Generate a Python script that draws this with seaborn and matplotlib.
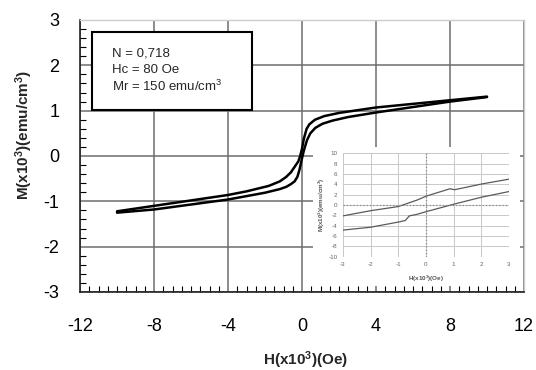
import matplotlib
matplotlib.use("Agg")
import matplotlib.pyplot as plt
from matplotlib.patches import Rectangle
from matplotlib.ticker import MultipleLocator
import pandas as pd
import seaborn as sns

# main loop, descending branch
h_down = [10, 8, 6, 4, 2, 1.2, 0.7, 0.4, 0.25, 0.1, 0, -0.1, -0.2, -0.4, -0.6, -0.85, -1.2, -1.8, -3, -4, -6, -8, -10]
m_down = [1.31, 1.23, 1.15, 1.07, 0.95, 0.88, 0.80, 0.70, 0.60, 0.38, 0.16, 0.0, -0.12, -0.24, -0.36, -0.46, -0.56, -0.66, -0.78, -0.86, -0.98, -1.10, -1.22]
# ascending branch
h_up = [-10, -8, -6, -4, -2, -1.2, -0.85, -0.6, -0.4, -0.25, -0.14, 0, 0.1, 0.27, 0.45, 0.72, 1.1, 1.64, 2.5, 4, 6, 8, 10]
m_up = [-1.25, -1.18, -1.07, -0.96, -0.81, -0.73, -0.68, -0.62, -0.56, -0.46, -0.31, -0.05, 0.12, 0.35, 0.50, 0.62, 0.71, 0.78, 0.86, 0.96, 1.08, 1.20, 1.30]

# inset (zoom on low field)
ih_top = [-3, -2, -1, -0.3, 0, 0.87, 1.03, 2, 3]
im_top = [-2.1, -1.1, -0.3, 1.0, 1.7, 3.15, 2.95, 4.05, 5.0]
ih_bot = [-3, -2, -1, -0.75, -0.6, -0.36, 0, 1, 2, 3]
im_bot = [-4.85, -4.3, -3.3, -3.0, -2.1, -1.85, -1.3, 0.15, 1.5, 2.6]

x_ticks = [-12, -8, -4, 0, 4, 8, 12]
y_ticks = [-3, -2, -1, 0, 1, 2, 3]
info = ["N = 0,718", "Hc = 80 Oe", r"Mr = 150 emu/cm$^3$"]

sns.set_theme(style="white")
plt.rcParams['font.family'] = ['Liberation Sans', 'DejaVu Sans']
plt.rcParams['axes.unicode_minus'] = False
plt.rcParams['mathtext.fontset'] = 'custom'
plt.rcParams['mathtext.rm'] = 'Liberation Sans'
plt.rcParams['mathtext.bf'] = 'Liberation Sans:bold'
plt.rcParams['mathtext.default'] = 'rm'

fig = plt.figure(figsize=(5.36, 3.70), dpi=100)
ax = fig.add_axes([80/536, 1-292/370, 444/536, 272/370])

sns.lineplot(x=h_down, y=m_down, sort=False, estimator=None, color='black', lw=1.8, ax=ax)
sns.lineplot(x=h_up, y=m_up, sort=False, estimator=None, color='black', lw=1.8, ax=ax)

ax.set_xlim(-12, 12)
ax.set_ylim(-3, 3)
ax.set_xticks(x_ticks)
ax.set_yticks(y_ticks)
ax.xaxis.set_minor_locator(MultipleLocator(0.5))
ax.yaxis.set_minor_locator(MultipleLocator(0.2))
ax.grid(True, which='major', color='#6e6e6e', lw=1.1)
ax.tick_params(which='major', length=0, labelsize=13, colors='black')
ax.tick_params(axis='x', which='major', pad=19)
ax.tick_params(axis='y', which='major', pad=15)
ax.tick_params(which='minor', direction='in', length=4, width=0.8, color='black',
               bottom=True, left=True, top=False, right=False)
for side in ['top', 'right']:
    ax.spines[side].set_color('#cccccc')
    ax.spines[side].set_linewidth(1.0)
for side in ['left', 'bottom']:
    ax.spines[side].set_color('#222222')
    ax.spines[side].set_linewidth(1.2)

fig.text(305/536, 1-360/370, r"H(x10$^\mathbf{3}$)(Oe)", ha='center', va='center', fontsize=11, fontweight='bold')
fig.text(24/536, 1-135/370, r"M(x10$^\mathbf{3}$)(emu/cm$^\mathbf{3}$)", ha='center', va='center', rotation=90,
         fontsize=11, fontweight='bold')

# info box
ax.add_patch(Rectangle((0.027, 0.669), 0.36, 0.287, transform=ax.transAxes,
                       facecolor='white', edgecolor='black', lw=1.5, zorder=5))
for i, line in enumerate(info):
    ax.text(0.072, 0.875 - 0.059 * i, line, transform=ax.transAxes, ha='left', va='center',
            fontsize=9.5, zorder=6)

# white panel behind the inset
panel = fig.add_axes([313/536, 1-286/370, 207/536, 139/370], zorder=2)
panel.set_facecolor('white')
panel.set_xticks([])
panel.set_yticks([])
for s in panel.spines.values():
    s.set_visible(False)

ins = fig.add_axes([343/536, 1-256.7/370, 166/536, 103.4/370], zorder=3)
sns.lineplot(x=ih_top, y=im_top, sort=False, estimator=None, color='#5a5a5a', lw=0.9, ax=ins)
sns.lineplot(x=ih_bot, y=im_bot, sort=False, estimator=None, color='#5a5a5a', lw=0.9, ax=ins)
ins.set_xlim(-3, 3)
ins.set_ylim(-10, 10)
ins.set_xticks(range(-3, 4))
ins.set_yticks(range(-10, 11, 2))
ins.set_facecolor('white')
ins.grid(True, color='#c8c8c8', lw=0.7)
ins.axvline(0, color='#888888', lw=0.9, ls=':')
ins.axhline(0, color='#888888', lw=0.9, ls=':')
ins.tick_params(length=0, labelsize=4.5, colors='#666666', pad=4)
for s in ins.spines.values():
    s.set_visible(False)
fig.text(426/536, 1-279/370, r"H(x10$^\mathbf{3}$)(Oe)", ha='center', va='center', fontsize=4.5,
         fontweight='bold', color='#555555', zorder=4)
fig.text(322/536, 1-205/370, r"M(x10$^\mathbf{3}$)(emu/cm$^\mathbf{3}$)", ha='center', va='center', rotation=90,
         fontsize=4.5, fontweight='bold', color='#555555', zorder=4)

fig.savefig("out.png", dpi=100)
